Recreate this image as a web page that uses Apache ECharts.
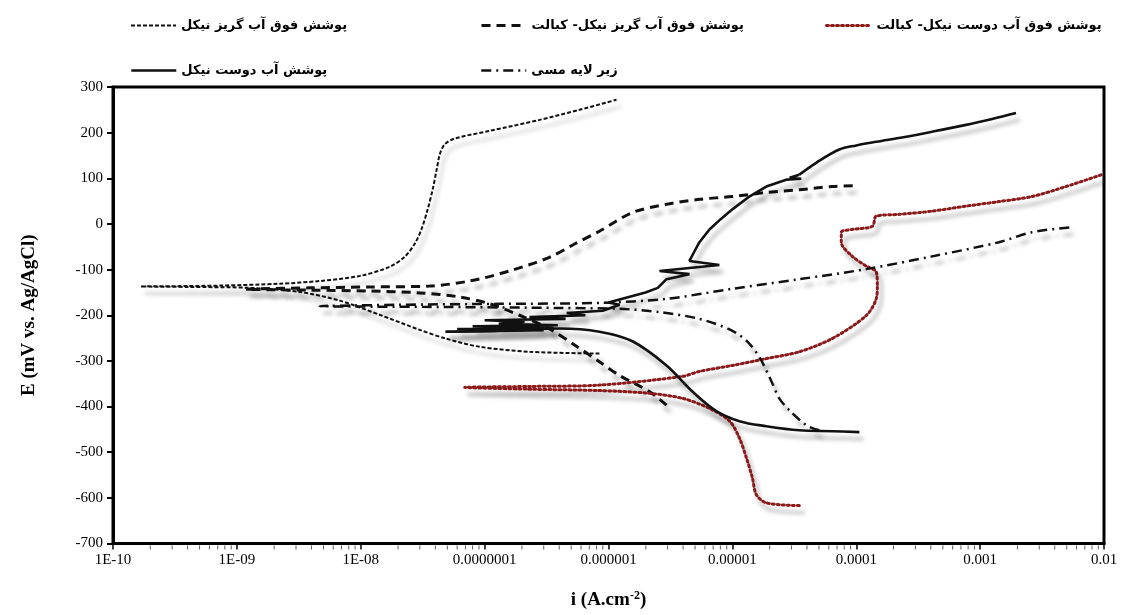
<!DOCTYPE html>
<html>
<head>
<meta charset="utf-8">
<script src="https://cdn.jsdelivr.net/npm/echarts@6/dist/echarts.min.js"></script>
<style>
html,body{margin:0;padding:0;background:#fff;}
#chart{width:1125px;height:615px;}
</style>
</head>
<body>
<div id="chart"></div>
<script>
// ---- Data (current density A/cm2, potential mV) ----
const seriesNames = [
  'پوشش فوق آب گریز نیکل',
  'پوشش فوق آب گریز نیکل- کبالت',
  'پوشش فوق آب دوست نیکل- کبالت',
  'پوشش آب دوست نیکل',
  'زیر لایه مسی'
];
const xTickLabels = ['1E-10','1E-09','1E-08','0.0000001','0.000001','0.00001','0.0001','0.001','0.01'];
const xMinorTicks = [2,3,4,5,6,7,8,9];

// superhydrophobic Ni
const niHydrophobicI = [8.45e-7,2.31e-7,9.1e-8,4.84e-8,2.99e-8,1.42e-8,6.78e-9,3.22e-9,1.27e-9,3.98e-10,1.68e-10,
  3.98e-10,7.3e-10,2.22e-9,4.67e-9,9.8e-9,1.71e-8,2.26e-8,2.72e-8,3.1e-8,3.47e-8,3.81e-8,4.1e-8,4.34e-8,4.75e-8,5.73e-8,1.1e-7,2.78e-7,5.83e-7,1.16e-6];
const niHydrophobicE = [-284,-280,-269,-251,-232,-199,-168,-149,-140,-138,-137,
  -136,-135,-131,-125,-114,-94,-72,-44,-11,32,76,119,152,174,187,204,228,250,272];

// superhydrophobic Ni-Co
const niCoHydrophobicI = [2.94e-6,2.14e-6,1.23e-6,8.45e-7,5.32e-7,3.34e-7,1.91e-7,1.1e-7,6.28e-8,2.99e-8,1.18e-8,3.88e-9,1.18e-9,
  3.88e-9,1.18e-8,3.6e-8,7.57e-8,1.59e-7,3.34e-7,5.32e-7,8.45e-7,1.56e-6,2.94e-6,5.42e-6,1e-5,1.88e-5,3.47e-5,6.4e-5,1e-4];
const niCoHydrophobicE = [-397,-367,-332,-302,-265,-230,-200,-175,-160,-151,-147,-145,-143,
  -140,-138,-136,-125,-103,-73,-44,-16,25,43,54,60,69,75,82,84];

// superhydrophilic Ni-Co
const niCoHydrophilicI = [3.47e-5,1.88e-5,1.56e-5,1.45e-5,1.3e-5,1.14e-5,9.5e-6,6.53e-6,3.95e-6,2.14e-6,8.45e-7,2.31e-7,6.9e-8,
  2.31e-7,8.45e-7,3.95e-6,5.42e-6,1e-5,1.88e-5,3.47e-5,6.4e-5,1.2e-4,1.45e-4,1.48e-4,1.45e-4,1.2e-4,9.3e-5,7.57e-5,7.57e-5,9.3e-5,1.35e-4,1.45e-4,2.22e-4,4.1e-4,7.7e-4,1.42e-3,2.62e-3,4.94e-3,9.6e-3];
const niCoHydrophilicE = [-617,-611,-593,-556,-513,-469,-432,-404,-382,-371,-365,-362,-358,
  -356,-353,-334,-323,-310,-295,-280,-251,-201,-164,-136,-105,-92,-71,-40,-18,-12,-5,17,21,28,39,49,60,82,108];

// hydrophilic Ni: cathodic branch
const niHydrophilicCathI = [1.06e-4,6.4e-5,3.47e-5,1.88e-5,1.14e-5,7.43e-6,4.75e-6,2.94e-6,1.56e-6,8.45e-7,4.03e-7,1.32e-7,4.84e-8];
const niHydrophilicCathE = [-456,-454,-452,-443,-432,-410,-367,-310,-257,-236,-229,-234,-236];
// hydrophilic Ni: noisy anodic branch
const niHydrophilicNoisyI = [4.84e-8,3.0e-7,6.0e-8,3.6e-7,8.0e-8,3.9e-7,1.3e-7,2.1e-7,1.0e-7,4.5e-7,2.3e-7,6.5e-7,4.6e-7,9.0e-7,1.23e-6,1.0e-6,1.99e-6,2.5e-6,2.94e-6,4.5e-6,2.58e-6,7.85e-6,4.5e-6,4.9e-6,5.42e-6,6.53e-6,8.0e-6,1e-5,1.37e-5,1.88e-5,2.72e-5,3.6e-5,2.9e-5,3.47e-5];
const niHydrophilicNoisyE = [-236,-233,-230,-228,-224,-222,-219,-214,-211,-208,-204,-200,-195,-190,-177,-172,-150,-140,-121,-110,-103,-90,-81,-62,-40,-12,10,32,60,82,97,99,101,108];
// hydrophilic Ni: upper anodic branch
const niHydrophilicUpI = [3.47e-5,4.75e-5,7.3e-5,1.0e-4,1.45e-4,2.4e-4,4.1e-4,7.7e-4,1.25e-3,1.95e-3];
const niHydrophilicUpE = [108,134,163,172,180,190,202,217,230,243];

// copper substrate
const copperI = [5.04e-5,3.95e-5,2.88e-5,2.39e-5,2.1e-5,1.71e-5,1.37e-5,1e-5,5.42e-6,2.58e-6,1.23e-6,4.03e-7,5.22e-8,4.67e-9,
  2.06e-8,1.32e-7,8.45e-7,2.94e-6,1e-5,3.47e-5,1.2e-4,4.1e-4,1.42e-3,2.62e-3,5.52e-3];
const copperE = [-452,-441,-408,-382,-349,-299,-262,-234,-208,-193,-186,-184,-182,-180,
  -177,-175,-173,-164,-142,-121,-99,-71,-40,-18,-7];

// ---- chart ----
function pairs(xs, ys){ return xs.map((x,i)=>[x, ys[i]]); }
const shadow = {shadowColor:'rgba(0,0,0,0.3)', shadowBlur:4, shadowOffsetX:4, shadowOffsetY:7};
const styles = [
  {color:'#111', width:2, type:[4,2]},
  {color:'#111', width:3, type:[9,6]},
  {color:'#8b1a1a', width:3, type:[2,3], cap:'round'},
  {color:'#111', width:2.6, type:'solid'},
  {color:'#111', width:2.5, type:[10,5,2,5]}
];
// each entry: [style index, data, smooth]
const parts = [
  [0, pairs(niHydrophobicI, niHydrophobicE), 0.3],
  [1, pairs(niCoHydrophobicI, niCoHydrophobicE), 0.3],
  [4, pairs(copperI, copperE), 0.3],
  [2, pairs(niCoHydrophilicI, niCoHydrophilicE), 0.3],
  [3, pairs(niHydrophilicCathI, niHydrophilicCathE), 0.35],
  [3, pairs(niHydrophilicNoisyI, niHydrophilicNoisyE), 0],
  [3, pairs(niHydrophilicUpI, niHydrophilicUpE), 0.35]
];
const series = parts.map(([k, data, sm]) => ({
  name: seriesNames[k],
  type: 'line',
  data: data,
  symbol: 'none',
  smooth: sm,
  animation: false,
  color: styles[k].color,
  lineStyle: Object.assign({}, styles[k], shadow),
  z: 2 + k
}));
// minor log ticks on the x axis
const minorTickData = [];
for (let d = -10; d < -2; d++) xMinorTicks.forEach(m => minorTickData.push([m * Math.pow(10, d), -700]));
series.push({
  type:'scatter', data:minorTickData, symbol:'rect', symbolSize:[1,4], symbolOffset:[0,4],
  itemStyle:{color:'#333'}, clip:false, silent:true, z:1, animation:false
});

const legendText = {fontFamily:'DejaVu Sans', fontWeight:'bold', fontSize:13, color:'#000'};
const legendPos = [[125,14],[475,14],[820,14],[125,59],[475,59]];
const legends = legendPos.map((p,k)=>({
  data:[{name:seriesNames[k], itemStyle:{opacity:0},
    lineStyle:{type:styles[k].type, width:styles[k].width, color:styles[k].color, shadowBlur:0, shadowOffsetX:0, shadowOffsetY:0, shadowColor:'transparent'}}],
  left:p[0], top:p[1], itemWidth:45, itemHeight:12, textStyle:legendText, selectedMode:false
}));

const chart = echarts.init(document.getElementById('chart'), null, {renderer:'canvas'});
chart.setOption({
  backgroundColor:'#fff',
  animation:false,
  legend: legends,
  grid:{left:113, right:21, top:87, bottom:69, show:true, borderColor:'#000', borderWidth:3, containLabel:false},
  xAxis:{
    type:'log', logBase:10, min:1e-10, max:0.01, splitNumber:8,
    name:'{a|i (A.cm}{s|-2}{a|)}', nameLocation:'middle', nameGap:46,
    nameTextStyle:{rich:{a:{fontFamily:'Liberation Serif', fontWeight:'bold', fontSize:19, color:'#000'}, s:{fontFamily:'Liberation Serif', fontWeight:'bold', fontSize:12, color:'#000', verticalAlign:'top', padding:[0,0,10,0]}}},
    axisLine:{show:true, onZero:false, lineStyle:{color:'#000', width:3}},
    axisTick:{show:true, length:6, lineStyle:{color:'#000', width:1.5}},
    splitLine:{show:false},
    axisLabel:{fontFamily:'Liberation Serif', fontSize:15, color:'#000', margin:9,
      formatter:function(v){ const k = Math.round(Math.log10(v)) + 10; return xTickLabels[k] || ''; }}
  },
  yAxis:{
    type:'value', min:-700, max:300, interval:100,
    name:'E (mV vs. Ag/AgCl)', nameLocation:'middle', nameGap:74,
    nameTextStyle:{fontFamily:'Liberation Serif', fontWeight:'bold', fontSize:19, color:'#000'},
    axisLine:{show:true, onZero:false, lineStyle:{color:'#000', width:3}},
    axisTick:{show:true, length:6, lineStyle:{color:'#000', width:2}},
    splitLine:{show:false},
    axisLabel:{fontFamily:'Liberation Serif', fontSize:15, color:'#000', margin:10}
  },
  series: series
});
</script>
</body>
</html>
